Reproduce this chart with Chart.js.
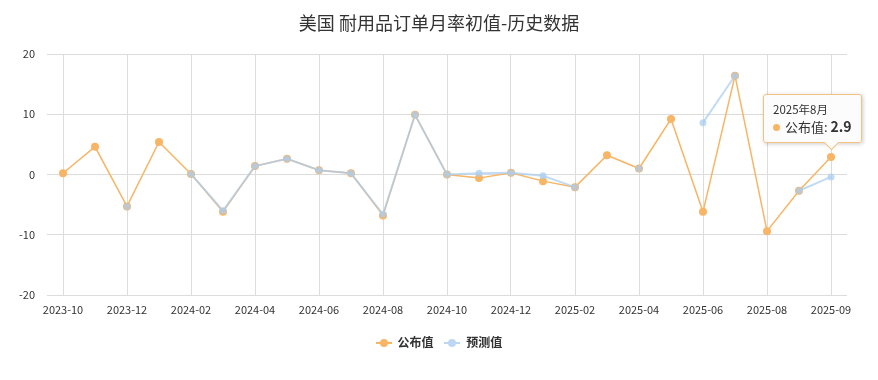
<!DOCTYPE html>
<html>
<head>
<meta charset="utf-8">
<script src="https://cdn.jsdelivr.net/npm/chart.js@4.4.1/dist/chart.umd.min.js"></script>
<style>
  body { margin: 0; background: #fff; font-family: "Noto Sans CJK SC", "Noto Sans", sans-serif; }
  #wrap { position: relative; width: 878px; height: 380px; }
  #title { position: absolute; top: 9px; left: 0; width: 878px; text-align: center; font-size: 18px; color: #333; }
  #legend { position: absolute; top: 333px; left: 0; width: 878px; text-align: center; font-size: 12px; font-weight: bold; color: #333; }
  .item { display: inline-block; margin: 0 4px; }
  .icon { display: inline-block; position: relative; width: 16px; height: 2px; vertical-align: middle; margin-right: 6px; top: -1px; }
  .icon i { position: absolute; left: 4px; top: -3px; width: 8px; height: 8px; border-radius: 50%; }
  #tip { position: absolute; background: rgba(252,252,252,0.96); border: 1px solid #f3c27f; border-radius: 3px;
         box-shadow: 1px 1px 4px rgba(0,0,0,0.2); padding: 7px 9px 6px 9px; color: #333; white-space: nowrap; }
  #tip .t { font-size: 11.5px; line-height: 15px; }
  #tip .b { font-size: 13px; line-height: 19px; }
  #tip .dot { display: inline-block; width: 7px; height: 7px; border-radius: 50%; background: #f7b565; margin-right: 5px; vertical-align: 1px; }
  #tip .arrow { position: absolute; bottom: -6px; width: 10px; height: 10px; background: #fcfcfc;
                border-right: 1px solid #f3c27f; border-bottom: 1px solid #f3c27f; transform: rotate(45deg); margin-left: -5px; }
</style>
</head>
<body>
<div id="wrap">
  <canvas id="chart" width="878" height="380"></canvas>
  <div id="title">美国 耐用品订单月率初值-历史数据</div>
  <div id="legend">
    <span class="item"><span class="icon" style="background:#f7b565"><i style="background:#f7b565"></i></span>公布值</span>
    <span class="item"><span class="icon" style="background:#bcd7f3"><i style="background:#bcd7f3"></i></span>预测值</span>
  </div>
  <div id="tip"></div>
</div>
<script>
// 数据
const categories = ['2023-10', '2023-11', '2023-12', '2024-01', '2024-02', '2024-03', '2024-04', '2024-05',
    '2024-06', '2024-07', '2024-08', '2024-09', '2024-10', '2024-11', '2024-12', '2025-01', '2025-02',
    '2025-03', '2025-04', '2025-05', '2025-06', '2025-07', '2025-08', '2025-08', '2025-09'];
const published = [0.2, 4.6, -5.3, 5.4, 0.1, -6.2, 1.4, 2.6, 0.7, 0.2, -6.8, 9.9, 0.0, -0.6, 0.3, -1.1, -2.1,
    3.2, 1.0, 9.2, -6.2, 16.4, -9.4, -2.7, 2.9];
const forecast = [null, null, -5.3, null, 0.1, -6.0, 1.4, 2.6, 0.7, 0.2, -6.6, 9.9, 0.0, 0.2, 0.3, -0.2, -2.1,
    null, 1.0, null, 8.6, 16.4, null, -2.7, -0.4];
const yTicks = [-20, -10, 0, 10, 20];
const tipIndex = 24;
const tipTitle = '2025年8月';

const ORANGE = '#f7b565';
const BLUE = 'rgba(170,205,240,0.72)';
const FONT = '"Noto Sans CJK SC", "Noto Sans", sans-serif';

document.addEventListener('DOMContentLoaded', () => {
    const ctx = document.getElementById('chart').getContext('2d');
    const chart = new Chart(ctx, {
        type: 'line',
        data: {
            labels: categories,
            datasets: [{
                label: '公布值',
                data: published,
                order: 1,
                borderColor: ORANGE,
                backgroundColor: ORANGE,
                borderWidth: 1.5,
                pointRadius: 4,
                pointBorderWidth: 0,
                tension: 0
            }, {
                label: '预测值',
                data: forecast,
                order: 0,   // 画在公布值上面
                borderColor: BLUE,
                backgroundColor: BLUE,
                borderWidth: 2,
                pointRadius: 3.5,
                pointBorderWidth: 0,
                spanGaps: false,
                tension: 0
            }]
        },
        options: {
            responsive: false,
            animation: false,
            layout: { padding: { left: 0, right: 31, top: 54, bottom: 55 } },
            plugins: {
                legend: { display: false },
                title: { display: false },
                tooltip: { enabled: false }
            },
            scales: {
                x: {
                    type: 'category',
                    offset: true,
                    border: { display: false },
                    grid: {
                        offset: false,
                        drawTicks: false,
                        color: c => (c.index % 2 === 0 ? '#dcdcdc' : 'transparent')
                    },
                    ticks: {
                        autoSkip: false,
                        maxRotation: 0,
                        padding: 8,
                        color: '#333',
                        font: { family: FONT, size: 11 },
                        callback: (v, i) => (i % 2 === 0 ? categories[i] : '')
                    },
                    afterFit: s => { s.height = 30; }
                },
                y: {
                    min: yTicks[0],
                    max: yTicks[yTicks.length - 1],
                    border: { display: false },
                    grid: { drawTicks: false, color: '#dcdcdc' },
                    afterBuildTicks: s => { s.ticks = yTicks.map(v => ({ value: v })); },
                    ticks: {
                        padding: 12,
                        color: '#333',
                        font: { family: FONT, size: 11 }
                    },
                    afterFit: s => { s.width = 47; }
                }
            }
        }
    });

    // 提示框
    const pt = chart.getDatasetMeta(0).data[tipIndex];
    const tip = document.getElementById('tip');
    tip.innerHTML = `<div class="t">${tipTitle}</div>
        <div class="b"><span class="dot"></span>公布值: <b style="font-size:14px">${published[tipIndex]}</b></div>
        <div class="arrow"></div>`;
    const h = tip.offsetHeight;
    const left = 763;
    tip.style.left = left + 'px';
    tip.style.top = (pt.y - 14 - h) + 'px';
    tip.querySelector('.arrow').style.left = (pt.x - left - 1) + 'px';
});
</script>
</body>
</html>
